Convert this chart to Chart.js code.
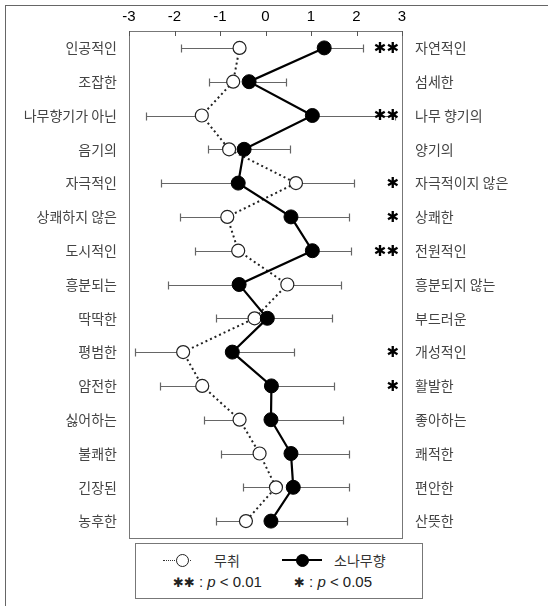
<!DOCTYPE html>
<html>
<head>
<meta charset="utf-8">
<script src="https://cdn.jsdelivr.net/npm/chart.js@4"></script>
<style>
  html, body { margin: 0; padding: 0; background: #fff; overflow: hidden; }
  #wrap { position: relative; width: 548px; height: 606px; }
  #frame { position: absolute; left: 5px; top: 5px; width: 600px; height: 640px; border: 1px solid #666; }
  #chart { position: absolute; left: 0; top: 0; }
  #legend {
    position: absolute; left: 135px; top: 543px; width: 286px; height: 54px;
    border: 1px solid #777; background: #fff;
    font-family: "Liberation Sans", Arial, sans-serif; color: #222;
  }
  .row { position: absolute; left: 0; white-space: nowrap; }
  .kr { font-family: "Noto Sans CJK KR", sans-serif; font-size: 14px; color: #333; }
  .dot { position: absolute; width: 28px; border-top: 1.5px dotted #333; top: 9px; }
  .solid { position: absolute; width: 40px; border-top: 2px solid #000; top: 8px; }
  .circ { position: absolute; width: 11px; height: 11px; border-radius: 50%; top: 3px; }
  .star { font-family: "DejaVu Sans", sans-serif; font-weight: bold; font-size: 13px; }
</style>
</head>
<body>
<div id="wrap">
  <div id="frame"></div>
  <canvas id="chart" width="548" height="606"></canvas>
  <div id="legend">
    <div class="row" style="top:7px; height:20px; width:286px;">
      <span class="dot" style="left:27px;"></span>
      <span class="circ" style="left:40px; background:#fff; border:1px solid #222;"></span>
      <span class="kr" style="position:absolute; left:78px; top:-1px;">무취</span>
      <span class="solid" style="left:146px;"></span>
      <span class="circ" style="left:160px; background:#000; border:1px solid #000;"></span>
      <span class="kr" style="position:absolute; left:198px; top:-1px;">소나무향</span>
    </div>
    <div class="row" style="top:29px; font-size:15px;">
      <span style="position:absolute; left:37px;"><span class="star">✱✱</span> : <i>p</i> &lt; 0.01</span>
      <span style="position:absolute; left:158px;"><span class="star">✱</span> : <i>p</i> &lt; 0.05</span>
    </div>
  </div>
</div>
<script>
// adjective pairs (negative pole on the left, positive pole on the right)
const leftLabels = ['인공적인', '조잡한', '나무향기가 아닌', '음기의', '자극적인', '상쾌하지 않은', '도시적인',
  '흥분되는', '딱딱한', '평범한', '얌전한', '싫어하는', '불쾌한', '긴장된', '농후한'];
const rightLabels = ['자연적인', '섬세한', '나무 향기의', '양기의', '자극적이지 않은', '상쾌한', '전원적인',
  '흥분되지 않는', '부드러운', '개성적인', '활발한', '좋아하는', '쾌적한', '편안한', '산뜻한'];

// mean scores and standard deviations
const odorless = [-0.57, -0.71, -1.40, -0.80, 0.67, -0.84, -0.60, 0.48, -0.24, -1.81, -1.39, -0.57, -0.13, 0.23, -0.43];
const odorlessSD = [1.28, 0.54, 1.22, 0.46, 1.28, 1.05, 0.94, 1.17, 0.84, 1.05, 0.92, 0.78, 0.84, 0.72, 0.65];
const pine = [1.29, -0.36, 1.03, -0.47, -0.60, 0.56, 1.03, -0.58, 0.04, -0.73, 0.13, 0.12, 0.56, 0.61, 0.12];
const pineSD = [0.86, 0.81, 1.82, 1.01, 1.69, 1.27, 0.84, 1.57, 1.43, 1.36, 1.38, 1.58, 1.27, 1.22, 1.68];

// significance marks per pair
const signif = ['**', '', '**', '', '*', '*', '**', '', '', '*', '*', '', '', '', ''];

const xTicks = [-3, -2, -1, 0, 1, 2, 3];

const labelFont = { family: "'Noto Sans CJK KR', sans-serif", size: 14 };

// plot box and inward tick marks on the top edge
const boxPlugin = {
  id: 'box',
  beforeDatasetsDraw(chart) {
    const { ctx, chartArea: a, scales } = chart;
    ctx.save();
    ctx.strokeStyle = '#777';
    ctx.lineWidth = 1;
    ctx.strokeRect(Math.round(a.left) + 0.5, Math.round(a.top) + 0.5,
      Math.round(a.right - a.left), Math.round(a.bottom - a.top));
    ctx.strokeStyle = '#555';
    xTicks.forEach(v => {
      const x = Math.round(scales.x.getPixelForValue(v)) + 0.5;
      ctx.beginPath();
      ctx.moveTo(x, a.top);
      ctx.lineTo(x, a.top + 5);
      ctx.stroke();
    });
    ctx.restore();
  }
};

// one-sided error bars, pointing away from the other series
const errorPlugin = {
  id: 'errorBars',
  beforeDatasetsDraw(chart) {
    const { ctx, scales } = chart;
    ctx.save();
    ctx.strokeStyle = '#666';
    ctx.lineWidth = 1.2;
    const draw = (vals, sds, other) => {
      vals.forEach((v, i) => {
        const dir = v >= other[i] ? 1 : -1;
        const y = Math.round(scales.y.getPixelForValue(i)) + 0.5;
        const x0 = scales.x.getPixelForValue(v);
        const x1 = Math.round(scales.x.getPixelForValue(v + dir * sds[i])) + 0.5;
        ctx.beginPath();
        ctx.moveTo(x0, y);
        ctx.lineTo(x1, y);
        ctx.moveTo(x1, y - 4);
        ctx.lineTo(x1, y + 4);
        ctx.stroke();
      });
    };
    draw(odorless, odorlessSD, pine);
    draw(pine, pineSD, odorless);
    ctx.restore();
  }
};

// significance asterisks near the right edge
const starPlugin = {
  id: 'stars',
  afterDatasetsDraw(chart) {
    const { ctx, scales } = chart;
    ctx.save();
    ctx.fillStyle = '#000';
    ctx.font = "bold 15px 'DejaVu Sans', sans-serif";
    ctx.textAlign = 'right';
    ctx.textBaseline = 'middle';
    signif.forEach((s, i) => {
      if (!s) return;
      const y = scales.y.getPixelForValue(i) + 1;
      ctx.fillText(s === '**' ? '✱✱' : '✱', scales.x.right - 3, y);
    });
    ctx.restore();
  }
};

new Chart(document.getElementById('chart'), {
  type: 'line',
  data: {
    labels: leftLabels,
    datasets: [
      {
        label: '무취',
        data: odorless,
        order: 2,
        borderColor: '#222',
        borderWidth: 2,
        borderDash: [2, 3],
        pointRadius: 6.5,
        pointBackgroundColor: '#fff',
        pointBorderColor: '#222',
        pointBorderWidth: 1.2,
        tension: 0
      },
      {
        label: '소나무향',
        data: pine,
        order: 1,
        borderColor: '#000',
        borderWidth: 2.2,
        pointRadius: 7,
        pointBackgroundColor: '#000',
        pointBorderColor: '#000',
        pointBorderWidth: 1,
        tension: 0
      }
    ]
  },
  options: {
    indexAxis: 'y',
    responsive: false,
    animation: false,
    layout: { padding: { top: 0, bottom: 68, left: 0, right: 0 } },
    scales: {
      x: {
        type: 'linear',
        position: 'top',
        min: -3,
        max: 3,
        afterFit: s => { s.height = 31; },
        afterBuildTicks: s => { s.ticks = xTicks.map(v => ({ value: v })); },
        ticks: {
          color: '#000',
          padding: 5,
          font: { family: "'Liberation Sans', Arial, sans-serif", size: 15 }
        },
        grid: { display: false, drawTicks: false },
        border: { display: false }
      },
      y: {
        type: 'category',
        position: 'left',
        offset: true,
        afterFit: s => { s.width = 129; },
        ticks: { color: '#444', padding: 12, font: labelFont },
        grid: { display: false, drawTicks: false },
        border: { display: false }
      },
      y2: {
        type: 'category',
        position: 'right',
        offset: true,
        labels: rightLabels,
        afterFit: s => { s.width = 146; },
        ticks: { color: '#444', padding: 13, font: labelFont },
        grid: { display: false, drawTicks: false },
        border: { display: false }
      }
    },
    plugins: {
      legend: { display: false },
      tooltip: { enabled: false }
    }
  },
  plugins: [boxPlugin, errorPlugin, starPlugin]
});
</script>
</body>
</html>
